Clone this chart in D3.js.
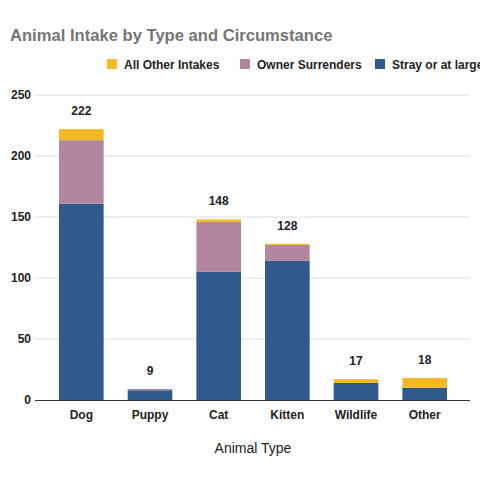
<!DOCTYPE html>
<html>
<head lang="en">
  <meta charset="UTF-8">
  <title>Animal Intake by Type and Circumstance</title>
  <script src="https://cdn.jsdelivr.net/npm/d3@7"></script>
</head>
<style>
  body { margin: 0; background: #fff; }
  #chart text { font-family: "Liberation Sans", Arial, sans-serif; }
</style>
<body>

<svg id="chart"></svg>

<script>
  // Chart data
  var animalTypes = ['Dog', 'Puppy', 'Cat', 'Kitten', 'Wildlife', 'Other'];
  var strayOrAtLarge = [161, 8, 105, 114, 14, 10];
  var ownerSurrenders = [52, 1, 41, 13, 0, 0];
  var allOtherIntakes = [9, 0, 2, 1, 3, 8];
  var seriesNames = ['Stray or at large', 'Owner Surrenders', 'All Other Intakes'];
  var yTicks = [0, 50, 100, 150, 200, 250];

  var width = 480, height = 480;
  var colors = { 'Stray or at large': '#2e5b8b', 'Owner Surrenders': '#b3869f', 'All Other Intakes': '#f4b822' };

  var svg = d3.select('#chart').attr('width', width).attr('height', height);

  // build rows for the stack
  var rows = animalTypes.map(function(t, i) {
    return {
      type: t,
      'Stray or at large': strayOrAtLarge[i],
      'Owner Surrenders': ownerSurrenders[i],
      'All Other Intakes': allOtherIntakes[i]
    };
  });
  var stacked = d3.stack().keys(seriesNames)(rows);

  var x = d3.scaleBand().domain(animalTypes).range([47, 459]).paddingInner(0.35).paddingOuter(0.175);
  var y = d3.scaleLinear().domain([0, 250]).range([400, 95]);

  // title
  svg.append('text')
    .attr('x', 10).attr('y', 41)
    .attr('font-size', 16.6).attr('font-weight', 'bold')
    .attr('fill', '#757575')
    .text('Animal Intake by Type and Circumstance');

  // legend (drawn in reverse order)
  var legendX = [107, 240, 375];
  seriesNames.slice().reverse().forEach(function(name, i) {
    var g = svg.append('g').attr('transform', 'translate(' + legendX[i] + ',59)');
    g.append('rect').attr('width', 10).attr('height', 10).attr('fill', colors[name]);
    g.append('text').attr('x', 17).attr('y', 9.5)
      .attr('font-size', 12).attr('font-weight', 'bold').attr('fill', '#222')
      .text(name);
  });

  // gridlines
  svg.append('g').selectAll('line')
    .data(yTicks.slice(1))
    .enter().append('line')
    .attr('x1', 35).attr('x2', 470)
    .attr('y1', function(d) { return y(d); })
    .attr('y2', function(d) { return y(d); })
    .attr('stroke', '#dedede').attr('stroke-width', 1);

  // y axis labels
  var yAxis = svg.append('g').attr('transform', 'translate(35,0)')
    .call(d3.axisLeft(y).tickValues(yTicks).tickSize(0).tickPadding(4));
  yAxis.select('.domain').remove();
  yAxis.selectAll('text')
    .attr('font-size', 12).attr('font-weight', 'bold').attr('fill', '#222')
    .style('font-family', '"Liberation Sans", Arial, sans-serif');

  // bars
  svg.append('g').selectAll('g')
    .data(stacked)
    .enter().append('g')
      .attr('fill', function(d) { return colors[d.key]; })
    .selectAll('rect')
    .data(function(d) { return d; })
    .enter().append('rect')
      .attr('x', function(d) { return x(d.data.type); })
      .attr('width', x.bandwidth())
      .attr('y', function(d) { return y(d[1]); })
      .attr('height', function(d) { return y(d[0]) - y(d[1]); });

  // total labels
  svg.append('g').selectAll('text')
    .data(rows)
    .enter().append('text')
    .attr('x', function(d) { return x(d.type) + x.bandwidth() / 2; })
    .attr('y', function(d, i) { return y(strayOrAtLarge[i] + ownerSurrenders[i] + allOtherIntakes[i]) - 14; })
    .attr('text-anchor', 'middle')
    .attr('font-size', 12).attr('font-weight', 'bold').attr('fill', '#222')
    .text(function(d, i) { return strayOrAtLarge[i] + ownerSurrenders[i] + allOtherIntakes[i]; });

  // x axis
  svg.append('line')
    .attr('x1', 35).attr('x2', 470)
    .attr('y1', 400.5).attr('y2', 400.5)
    .attr('stroke', '#333').attr('stroke-width', 1);
  var xAxis = svg.append('g').attr('transform', 'translate(0,400)')
    .call(d3.axisBottom(x).tickSize(0).tickPadding(10));
  xAxis.select('.domain').remove();
  xAxis.selectAll('text')
    .attr('font-size', 12).attr('font-weight', 'bold').attr('fill', '#222')
    .style('font-family', '"Liberation Sans", Arial, sans-serif');

  // x axis title
  svg.append('text')
    .attr('x', 253).attr('y', 453)
    .attr('text-anchor', 'middle')
    .attr('font-size', 14).attr('fill', '#222')
    .text('Animal Type');
</script>
</body>
</html>
